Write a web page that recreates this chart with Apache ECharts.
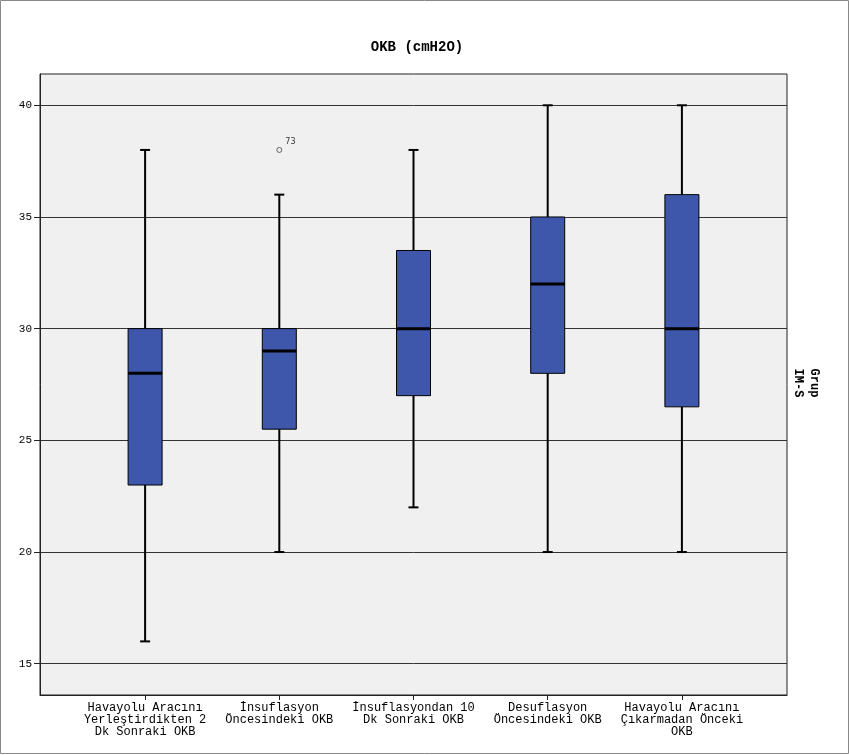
<!DOCTYPE html>
<html>
<head>
<meta charset="utf-8">
<script src="https://cdn.jsdelivr.net/npm/echarts@6/dist/echarts.min.js"></script>
<style>html,body{margin:0;padding:0;background:#fff;}#c{width:849px;height:755px;}</style>
</head>
<body>
<div id="c"></div>
<script>
const categories = [
  "Havayolu Aracını\nYerleştirdikten 2\nDk Sonraki OKB",
  "İnsuflasyon\nÖncesindeki OKB",
  "İnsuflasyondan 10\nDk Sonraki OKB",
  "Desuflasyon\nÖncesindeki OKB",
  "Havayolu Aracını\nÇıkarmadan Önceki\nOKB"
];
const whiskerLow = [16, 20, 22, 20, 20];
const q1 = [23, 25.5, 27, 28, 26.5];
const medians = [28, 29, 30, 32, 30];
const q3 = [30, 30, 33.5, 35, 36];
const whiskerHigh = [38, 36, 38, 40, 40];
const outliers = [[1, 38, "73"]];
const yTicks = [15, 20, 25, 30, 35, 40];

const FONT = "'Liberation Mono', 'DejaVu Sans Mono', monospace";
const boxData = categories.map((c, i) => [i, whiskerLow[i], q1[i], medians[i], q3[i], whiskerHigh[i]]);

const chart = echarts.init(document.getElementById('c'));
const yCommon = { type: 'value', min: 13.6, max: 41.4 };

chart.setOption({
  animation: false,
  backgroundColor: '#fff',
  grid: [
    { left: 40, top: 74, width: 747, height: 621, show: true, backgroundColor: '#f0f0f0', borderColor: '#222', borderWidth: 1 },
    { left: 78, top: 74, width: 671, height: 621, show: false }
  ],
  xAxis: [
    { gridIndex: 0, type: 'value', min: 0, max: 1, axisLine: { show: true, onZero: false, lineStyle: { color: '#222', width: 1 } }, axisTick: { show: false }, axisLabel: { show: false }, splitLine: { show: false } },
    { gridIndex: 1, type: 'category', data: categories, boundaryGap: true,
      axisLine: { show: false },
      axisTick: { show: true, alignWithLabel: true, length: 5, lineStyle: { color: '#222' } },
      axisLabel: { show: true, interval: 0, margin: 7, fontFamily: FONT, fontSize: 12, color: '#000', lineHeight: 12, align: 'center' },
      splitLine: { show: false } }
  ],
  yAxis: [
    Object.assign({ gridIndex: 0 }, yCommon, {
      axisLine: { show: true, lineStyle: { color: '#222' } },
      axisTick: { show: true, length: 6, customValues: yTicks, lineStyle: { color: '#222' } },
      axisLabel: { show: true, customValues: yTicks, margin: 8, fontFamily: FONT, fontSize: 11, color: '#000' },
      splitLine: { show: true, lineStyle: { color: '#333', width: 1 } }
    }),
    Object.assign({ gridIndex: 1 }, yCommon, { show: false, splitLine: { show: false } })
  ],
  series: [
    {
      type: 'custom',
      xAxisIndex: 1, yAxisIndex: 1,
      data: boxData,
      renderItem: function (params, api) {
        const x = api.value(0);
        const pLow = api.coord([x, api.value(1)]);
        const pQ1 = api.coord([x, api.value(2)]);
        const pMed = api.coord([x, api.value(3)]);
        const pQ3 = api.coord([x, api.value(4)]);
        const pHigh = api.coord([x, api.value(5)]);
        const cx = pLow[0];
        const bw = 34, cw = 10;
        return {
          type: 'group',
          children: [
            { type: 'line', shape: { x1: cx, y1: pLow[1], x2: cx, y2: pQ1[1] }, style: { stroke: '#000', lineWidth: 2 } },
            { type: 'line', shape: { x1: cx, y1: pQ3[1], x2: cx, y2: pHigh[1] }, style: { stroke: '#000', lineWidth: 2 } },
            { type: 'line', shape: { x1: cx - cw / 2, y1: pLow[1], x2: cx + cw / 2, y2: pLow[1] }, style: { stroke: '#000', lineWidth: 2 } },
            { type: 'line', shape: { x1: cx - cw / 2, y1: pHigh[1], x2: cx + cw / 2, y2: pHigh[1] }, style: { stroke: '#000', lineWidth: 2 } },
            { type: 'rect', shape: { x: cx - bw / 2, y: pQ3[1], width: bw, height: pQ1[1] - pQ3[1] }, style: { fill: '#3e57aa', stroke: '#000', lineWidth: 1 } },
            { type: 'line', shape: { x1: cx - bw / 2, y1: pMed[1], x2: cx + bw / 2, y2: pMed[1] }, style: { stroke: '#000', lineWidth: 3 } }
          ]
        };
      }
    },
    {
      type: 'scatter',
      xAxisIndex: 1, yAxisIndex: 1,
      data: outliers.map(o => ({ value: [o[0], o[1]], name: o[2] })),
      symbol: 'circle', symbolSize: 5,
      itemStyle: { color: '#f0f0f0', borderColor: '#444', borderWidth: 1 },
      label: { show: true, formatter: p => p.name, position: 'right', distance: 3, offset: [0, -8], fontFamily: "'DejaVu Sans', sans-serif", fontSize: 8, color: '#000' }
    }
  ],
  graphic: [
    { type: 'rect', shape: { x: 0.5, y: 0.5, width: 848, height: 753 }, style: { fill: 'none', stroke: '#888', lineWidth: 1 }, silent: true, z: 100 },
    { type: 'text', x: 417, y: 47, style: { text: 'OKB (cmH2O)', fontFamily: FONT, fontSize: 14, fontWeight: 'bold', fill: '#000', align: 'center', verticalAlign: 'middle' } },
    { type: 'text', x: 806, y: 383, rotation: -Math.PI / 2, style: { text: 'Grup\nIM-S', fontFamily: FONT, fontSize: 12, fontWeight: 'bold', lineHeight: 16, fill: '#000', align: 'center', verticalAlign: 'middle' } }
  ]
});
</script>
</body>
</html>
